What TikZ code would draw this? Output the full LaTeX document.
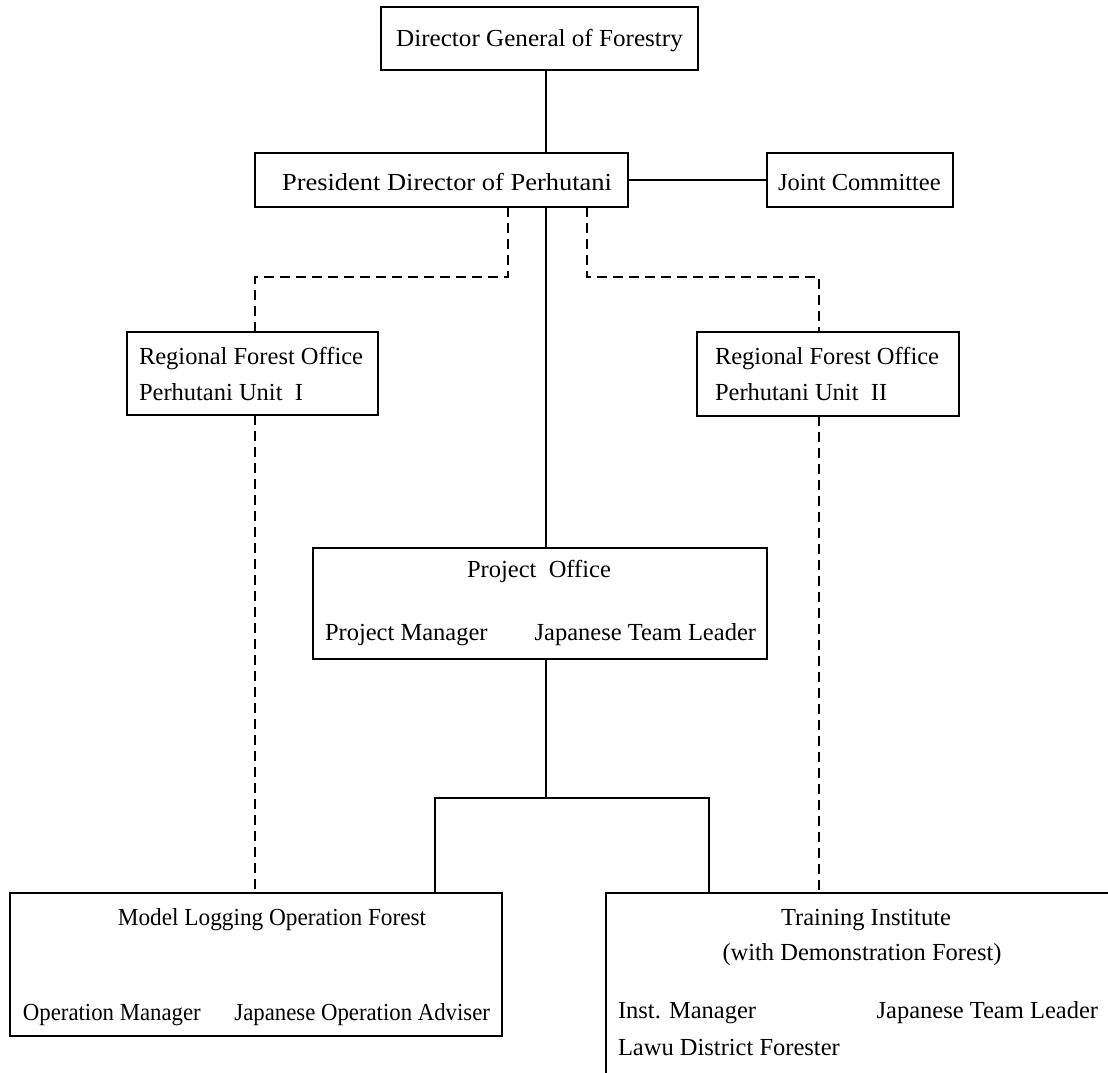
\documentclass[tikz,border=0pt]{standalone}
\usepackage{fontspec}
\setmainfont{Liberation Serif}
\begin{document}
\begin{tikzpicture}[x=1pt,y=-1pt,
  box/.style={draw, line width=1.8pt, inner sep=0pt, outer sep=0pt},
  txt/.style={font=\fontsize{24.5}{29}\selectfont, inner sep=0pt, outer sep=0pt},
  solidlink/.style={line width=1.8pt},
  dashlink/.style={line width=1.8pt, dash pattern=on 10pt off 6pt},
  thinlink/.style={line width=1.1pt}]
\clip (0,0) rectangle (1108,1073);
\fill[white] (0,0) rectangle (1108,1073);
% boxes
\node[box, minimum width=317pt, minimum height=63pt] (dg) at (539.5,38.5) {};
\node[box, minimum width=373pt, minimum height=54pt] (pd) at (441.5,180) {};
\node[box, minimum width=186pt, minimum height=54pt] (jc) at (860,180) {};
\node[box, minimum width=251pt, minimum height=83pt] (r1) at (252.5,373.5) {};
\node[box, minimum width=262pt, minimum height=84pt] (r2) at (828,374) {};
\node[box, minimum width=454pt, minimum height=111pt] (po) at (540,603.5) {};
\node[box, minimum width=492pt, minimum height=143pt] (mo) at (256,964.5) {};
\node[box, minimum width=524pt, minimum height=217pt] (ti) at (868,1001.5) {};
% texts
\node[txt, anchor=base] (tdg) at (539.5,47) {\scalebox{1.025}[1]{Director General of Forestry}};
\node[txt, anchor=base] (tpd) at (447,190) {\scalebox{1.08}[1]{President Director of Perhutani}};
\node[txt, anchor=base west] (tjc) at (778,190) {Joint Committee};
\node[txt, anchor=base west] (tr1a) at (139,364) {Regional Forest Office};
\node[txt, anchor=base west] (tr1b) at (139,400) {Perhutani Unit~~I};
\node[txt, anchor=base west] (tr2a) at (715,364) {Regional Forest Office};
\node[txt, anchor=base west] (tr2b) at (715,400) {Perhutani Unit~~II};
\node[txt, anchor=base] (tpo) at (539,577) {Project~~Office};
\node[txt, anchor=base west] (tpoa) at (325,640) {Project Manager};
\node[txt, anchor=base east] (tpob) at (756,640) {Japanese Team Leader};
\node[txt, anchor=base] (tmo) at (272,925) {\scalebox{0.95}[1]{Model Logging Operation Forest}};
\node[txt, anchor=base west] (tmoa) at (23,1020) {\scalebox{0.93}[1]{Operation Manager}};
\node[txt, anchor=base east] (tmob) at (490,1020) {\scalebox{0.93}[1]{Japanese Operation Adviser}};
\node[txt, anchor=base] (tti) at (866,925) {Training Institute};
\node[txt, anchor=base] (tti2) at (862,960) {(with Demonstration Forest)};
\node[txt, anchor=base west] (ttia) at (618,1018) {Inst. Manager};
\node[txt, anchor=base east] (ttib) at (1098,1018) {Japanese Team Leader};
\node[txt, anchor=base west] (ttic) at (618,1055) {Lawu District Forester};
% helper coordinates
\coordinate (spine) at (546,0);
\coordinate (dl) at (508,277);
\coordinate (dr) at (587,277);
\coordinate (x1) at (255,0);
\coordinate (x2) at (819,0);
\coordinate (barL) at (435,798);
\coordinate (barR) at (709,798);
% connectors
\draw[solidlink] (dg.south -| spine) -- (pd.north -| spine);
\draw[solidlink] (pd.south -| spine) -- (po.north -| spine);
\draw[thinlink] (pd.east) -- (jc.west);
\draw[dashlink] (pd.south -| dl) -- (dl) -| (r1.north -| x1);
\draw[dashlink] (pd.south -| dr) -- (dr) -| (r2.north -| x2);
\draw[dashlink] (r1.south -| x1) -- (mo.north -| x1);
\draw[dashlink] (r2.south -| x2) -- (ti.north -| x2);
\draw[solidlink] (po.south -| spine) -- (spine |- barL);
\draw[solidlink] (barL |- mo.north) -- (barL) -- (barR) -- (barR |- ti.north);
\end{tikzpicture}
\end{document}
